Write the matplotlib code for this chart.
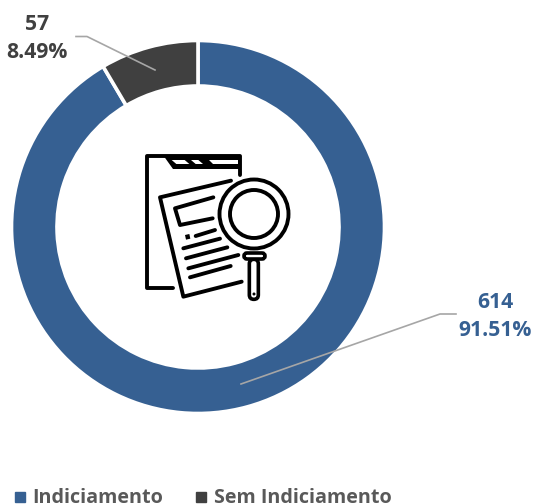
import matplotlib
matplotlib.use('Agg')
import matplotlib.pyplot as plt
from matplotlib.patches import Circle, FancyBboxPatch, Polygon

plt.rcParams['font.family'] = ['Open Sans', 'DejaVu Sans']

categories = ['Indiciamento', 'Sem Indiciamento']
values = [614, 57]
percents = ['91.51%', '8.49%']
colors = ['#366092', '#404040']
GREY = '#a6a6a6'
W, H = 533, 504


def py(y):
    # picture y (downwards) to axes y (upwards)
    return H - y


def zx(x):
    return 130 + x / 3


def zy(y):
    return H - (140 + y / 3)


def stroke(ax, pts, lw=2.8):
    ax.plot([zx(p[0]) for p in pts], [zy(p[1]) for p in pts], color='black', lw=lw,
            solid_capstyle='round', solid_joinstyle='round', zorder=5)


def fill(ax, pts, color):
    ax.add_patch(Polygon([(zx(p[0]), zy(p[1])) for p in pts], closed=True, fc=color, ec='none', zorder=5))


fig = plt.figure(figsize=(W / 100, H / 100), dpi=100)
ax = fig.add_axes([0, 0, 1, 1])

# donut
ax.pie(values, colors=colors, startangle=90, counterclock=False, center=(198, py(227)),
       radius=186.5, frame=True, wedgeprops=dict(width=45.5, edgecolor='white', linewidth=2.6))
ax.set_xlim(0, W)
ax.set_ylim(0, H)
ax.set_aspect('equal')
ax.axis('off')

# leader lines
ax.plot([76, 87, 155], [py(36.5), py(36.5), py(70)], color=GREY, lw=1.2, zorder=4)
ax.plot([456, 440, 241], [py(314), py(314), py(384)], color=GREY, lw=1.2, zorder=4)

# data labels
label_font = dict(fontsize=15.2, fontweight='bold', ha='center', va='center')
ax.text(37, py(25), str(values[1]), color=colors[1], **label_font)
ax.text(37, py(52), percents[1], color=colors[1], **label_font)
ax.text(495, py(302), str(values[0]), color=colors[0], **label_font)
ax.text(495, py(330), percents[0], color=colors[0], **label_font)

# legend
legend_font = dict(color='#595959', fontsize=14.2, fontweight='bold', va='baseline')
ax.plot([19.5], [py(496.5)], marker='s', ms=6.5, color=colors[0], ls='none')
ax.text(32, py(503), categories[0], **legend_font)
ax.plot([201], [py(496.5)], marker='s', ms=6.5, color=colors[1], ls='none')
ax.text(214, py(503), categories[1], **legend_font)

# icon: clipboard
stroke(ax, [(130, 445), (50, 445), (50, 48), (330, 48), (330, 105)])
fill(ax, [(100, 44), (334, 44), (334, 86), (130, 86)], 'black')
fill(ax, [(125, 60), (164, 60), (178, 72), (139, 72)], 'white')
fill(ax, [(183, 60), (205, 60), (219, 72), (197, 72)], 'white')
fill(ax, [(236, 60), (324, 60), (324, 72), (250, 72)], 'white')

# icon: paper sheet
stroke(ax, [(303, 122), (90, 172), (160, 470), (335, 425)])
stroke(ax, [(250, 172), (135, 205), (150, 255), (248, 235)])
fill(ax, [(165, 285), (178, 282), (181, 296), (168, 299)], 'black')
stroke(ax, [(197, 288), (255, 270)])
stroke(ax, [(160, 325), (270, 296)])
stroke(ax, [(168, 355), (292, 322)])
stroke(ax, [(175, 385), (325, 345)])
stroke(ax, [(180, 412), (302, 378)])

# icon: magnifier
ax.add_patch(Circle((zx(372), zy(222)), 34.5, fc='white', ec='black', lw=2.8, zorder=6))
ax.add_patch(Circle((zx(372), zy(222)), 24, fc='white', ec='black', lw=2.8, zorder=7))
ax.add_patch(FancyBboxPatch((zx(358), zy(478)), 9, 40, boxstyle='round,pad=0,rounding_size=4.5',
                            fc='white', ec='black', lw=2.6, zorder=6))
ax.add_patch(FancyBboxPatch((zx(342), zy(357)), 21, 6, boxstyle='round,pad=0,rounding_size=3',
                            fc='white', ec='black', lw=2.6, zorder=7))
ax.add_patch(Circle((zx(372), zy(462)), 1.5, fc='black', ec='none', zorder=8))

fig.savefig('out.png', dpi=100)
